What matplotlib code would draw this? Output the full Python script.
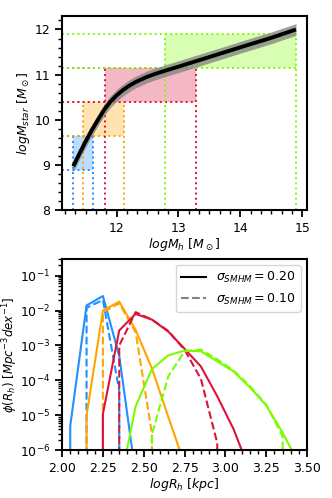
import matplotlib
matplotlib.use("Agg")
import matplotlib.pyplot as plt
import numpy as np
from matplotlib.ticker import MultipleLocator, AutoMinorLocator

# --- SMHM relation (top panel) ---
mh = [11.3, 11.4, 11.5, 11.6, 11.7, 11.8, 11.9, 12.0, 12.1, 12.2, 12.3, 12.4, 12.5, 12.6,
      12.7, 12.8, 12.9, 13.0, 13.5, 14.0, 14.5, 14.9]
ms = [8.97, 9.25, 9.52, 9.77, 10.00, 10.22, 10.40, 10.54, 10.655, 10.75, 10.83, 10.895, 10.955,
      11.005, 11.05, 11.093, 11.135, 11.177, 11.39, 11.605, 11.815, 12.0]
BAND_HALF = 0.13

bin_colors = ['dodgerblue', 'orange', 'crimson', 'lawngreen']
bin_mh_lo = [11.30, 11.46, 11.82, 12.78]
bin_mh_hi = [11.62, 12.12, 13.28, 14.90]
bin_ms_lo = [8.90, 9.65, 10.40, 11.15]
bin_ms_hi = [9.65, 10.40, 11.15, 11.90]

# --- size functions (bottom panel) ---
rh_blue = [1.95, 2.05, 2.15, 2.25, 2.35, 2.45]
phi_blue_020 = [0, 5e-6, 1.4e-2, 2.6e-2, 5e-4, 2e-7]
phi_blue_010 = [0, 0, 1.2e-2, 2.0e-2, 5e-5, 0]

rh_orange = [2.05, 2.15, 2.25, 2.35, 2.45, 2.55, 2.65, 2.75, 2.85]
phi_orange_020 = [0, 1e-5, 1e-2, 1.8e-2, 2.8e-3, 2.2e-4, 9e-6, 4e-7, 0]
phi_orange_010 = [0, 0, 9e-3, 1.6e-2, 2.4e-3, 3e-6, 0, 0, 0]

rh_red = [2.15, 2.25, 2.35, 2.45, 2.55, 2.65, 2.75, 2.85, 2.95, 3.05, 3.15]
phi_red_020 = [0, 1.1e-5, 2.7e-3, 8e-3, 5.5e-3, 2.5e-3, 8e-4, 2.5e-4, 3.5e-5, 4e-6, 2.5e-7]
phi_red_010 = [0, 0, 1e-3, 9e-3, 5.5e-3, 2.6e-3, 7.5e-4, 1.1e-4, 1.6e-6, 0, 0]

rh_green = [2.35, 2.45, 2.55, 2.65, 2.75, 2.85, 2.95, 3.05, 3.15, 3.25, 3.35, 3.45, 3.55]
phi_green_020 = [8e-8, 1.8e-5, 2.1e-4, 5.2e-4, 7.1e-4, 6.8e-4, 3.5e-4, 1.8e-4, 6.3e-5, 1.9e-5,
                 3.2e-6, 4e-7, 0]
phi_green_010 = [0, 0, 2.8e-6, 1.3e-4, 6.8e-4, 7.6e-4, 4e-4, 1.9e-4, 6.8e-5, 2e-5, 2.5e-6, 0, 0]

size_x = [rh_blue, rh_orange, rh_red, rh_green]
size_020 = [phi_blue_020, phi_orange_020, phi_red_020, phi_green_020]
size_010 = [phi_blue_010, phi_orange_010, phi_red_010, phi_green_010]

plt.rcParams['font.size'] = 9
plt.rcParams['axes.linewidth'] = 1.5


def _style_ticks(ax):
    ax.tick_params(which='major', direction='out', length=5, width=1.3, labelsize=9)
    ax.tick_params(which='minor', direction='out', length=3, width=1.0)


def _plot_smhm(ax):
    x0, y0 = 11.12, 8.0
    for c, xl, xh, yl, yh in zip(bin_colors, bin_mh_lo, bin_mh_hi, bin_ms_lo, bin_ms_hi):
        ax.fill_between([xl, xh], yl, yh, color=c, alpha=0.3, lw=0, zorder=1)
        ax.plot([x0, xh], [yl, yl], ls=':', color=c, lw=1.4, zorder=2)
        ax.plot([x0, xh], [yh, yh], ls=':', color=c, lw=1.4, zorder=2)
        ax.plot([xl, xl], [y0, yh], ls=':', color=c, lw=1.4, zorder=2)
        ax.plot([xh, xh], [y0, yh], ls=':', color=c, lw=1.4, zorder=2)

    ms_arr = np.array(ms)
    ax.fill_between(mh, ms_arr - BAND_HALF, ms_arr + BAND_HALF, color='gray', alpha=0.75,
                    lw=0, zorder=3)
    ax.plot(mh, ms, color='black', lw=2.8, zorder=4, solid_capstyle='butt')

    ax.set_xlim(11.12, 15.08)
    ax.set_ylim(8, 12.3)
    ax.xaxis.set_major_locator(MultipleLocator(1))
    ax.xaxis.set_minor_locator(AutoMinorLocator(6))
    ax.yaxis.set_major_locator(MultipleLocator(1))
    ax.yaxis.set_minor_locator(AutoMinorLocator(5))
    ax.set_xlabel(r'$logM_h\ [M_\odot]$', fontsize=9, labelpad=1)
    ax.set_ylabel(r'$logM_{star}\ [M_\odot]$', fontsize=9, labelpad=2)
    _style_ticks(ax)


def _plot_sizes(ax):
    for c, x, s2, s1 in zip(bin_colors, size_x, size_020, size_010):
        ax.plot(x, s2, color=c, lw=1.5, ls='-')
        ax.plot(x, s1, color=c, lw=1.5, ls='--')

    ax.plot([], [], color='black', lw=1.5, ls='-', label=r'$\sigma_{SMHM}=0.20$')
    ax.plot([], [], color='gray', lw=1.5, ls='--', label=r'$\sigma_{SMHM}=0.10$')
    ax.legend(loc='upper right', fontsize=9, handlelength=2.0)

    ax.set_yscale('log')
    ax.set_xlim(2.0, 3.5)
    ax.set_ylim(1e-6, 0.3)
    ax.xaxis.set_major_locator(MultipleLocator(0.25))
    ax.xaxis.set_minor_locator(AutoMinorLocator(5))
    ax.set_xlabel(r'$logR_h\ [kpc]$', fontsize=9, labelpad=1)
    ax.set_ylabel(r'$\phi(R_h)\ [Mpc^{-3}dex^{-1}]$', fontsize=8.5, labelpad=0)
    _style_ticks(ax)


fig = plt.figure(figsize=(3.32, 4.98), dpi=100)
ax_top = fig.add_axes([0.187, 0.578, 0.738, 0.39])
ax_bot = fig.add_axes([0.187, 0.096, 0.738, 0.384])

_plot_smhm(ax_top)
_plot_sizes(ax_bot)

fig.savefig('out.png', dpi=100)
